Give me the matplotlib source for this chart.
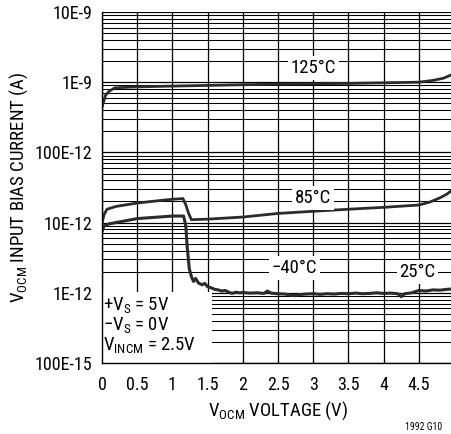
import matplotlib
matplotlib.use("Agg")
import matplotlib.pyplot as plt
from matplotlib import font_manager as fm
from matplotlib.patches import Rectangle
from matplotlib.ticker import LogLocator, NullFormatter

_avail = {f.name for f in fm.fontManager.ttflist}
_prefs = ["Liberation Sans Narrow", "Roboto Condensed", "Archivo Narrow", "PT Sans Narrow",
          "Arimo", "Liberation Sans"]
MAIN = next((p for p in _prefs if p in _avail), "DejaVu Sans")
plt.rcParams["font.family"] = [MAIN, "DejaVu Sans"]
plt.rcParams["mathtext.fontset"] = "custom"
plt.rcParams["mathtext.rm"] = MAIN
plt.rcParams["mathtext.it"] = MAIN

# ---- data ----
v125 = [0, 0.05, 0.1, 0.18, 0.4, 0.75, 1.0, 1.5, 2.0, 2.5, 3.0, 3.5, 4.0, 4.5, 4.7, 4.85, 5.0]
i125 = [4.4e-10, 6.5e-10, 7.4e-10, 8.3e-10, 8.5e-10, 8.7e-10, 8.8e-10, 9.0e-10, 9.2e-10,
        9.4e-10, 9.5e-10, 9.6e-10, 9.8e-10, 1.0e-9, 1.06e-9, 1.14e-9, 1.32e-9]

v85 = [0, 0.03, 0.07, 0.2, 0.5, 0.8, 1.0, 1.15, 1.19, 1.23, 1.27, 1.5, 2.0, 2.5, 3.0,
       3.5, 4.0, 4.5, 4.65, 4.8, 4.9, 5.0]
i85 = [9.9e-12, 1.3e-11, 1.55e-11, 1.7e-11, 1.9e-11, 2.05e-11, 2.15e-11, 2.2e-11, 1.8e-11,
       1.35e-11, 1.1e-11, 1.12e-11, 1.2e-11, 1.35e-11, 1.45e-11, 1.55e-11, 1.65e-11,
       1.78e-11, 1.95e-11, 2.25e-11, 2.55e-11, 3.05e-11]

v_low = [0, 0.03, 0.1, 0.5, 1.0, 1.16, 1.19, 1.21, 1.24, 1.27, 1.3, 1.33, 1.37, 1.42, 1.46,
         1.5, 1.55, 1.6, 1.65, 1.7, 1.75, 1.8, 1.85, 1.9, 1.95, 2.0, 2.1, 2.2, 2.3, 2.35,
         2.4, 2.5, 2.6, 2.7, 2.75, 2.8, 2.9, 3.0, 3.1, 3.2, 3.3, 3.4, 3.5, 3.6, 3.7, 3.8,
         3.9, 4.0, 4.1, 4.2, 4.25, 4.3, 4.4, 4.5, 4.6, 4.7, 4.8, 4.9, 5.0]
i_low = [7.5e-12, 9.0e-12, 9.6e-12, 1.14e-11, 1.24e-11, 1.24e-11, 9e-12, 4.5e-12, 2.2e-12,
         1.7e-12, 1.45e-12, 1.6e-12, 1.38e-12, 1.3e-12, 1.36e-12, 1.22e-12, 1.18e-12,
         1.12e-12, 1.1e-12, 1.06e-12, 1.08e-12, 1.02e-12, 0.98e-12, 1.02e-12, 1.0e-12,
         1.01e-12, 0.99e-12, 1.0e-12, 0.98e-12, 1.06e-12, 0.99e-12, 0.97e-12, 0.96e-12,
         0.92e-12, 0.91e-12, 0.94e-12, 0.96e-12, 0.97e-12, 0.95e-12, 0.97e-12, 0.96e-12,
         0.98e-12, 0.97e-12, 0.99e-12, 0.97e-12, 0.98e-12, 1.0e-12, 0.98e-12, 0.99e-12,
         0.97e-12, 0.88e-12, 0.97e-12, 1.0e-12, 1.08e-12, 1.06e-12, 1.1e-12, 1.09e-12,
         1.12e-12, 1.14e-12]

x_ticks = [0, 0.5, 1, 1.5, 2, 2.5, 3, 3.5, 4, 4.5, 5]
x_labels = ["0", "0.5", "1", "1.5", "2", "2.5", "3", "3.5", "4", "4.5", "5"]
y_ticks = [1e-13, 1e-12, 1e-11, 1e-10, 1e-9, 1e-8]
y_labels = ["100E-15", "1E-12", "10E-12", "100E-12", "1E-9", "10E-9"]

# ---- figure ----
fig = plt.figure(figsize=(4.52, 4.34), dpi=100)
ax = fig.add_axes([102 / 452, 71 / 434, 352 / 452, 351 / 434])
ax.set_yscale("log")
ax.set_xlim(0, 5)
ax.set_ylim(1e-13, 1e-8)

ax.set_xticks(x_ticks)
ax.set_xticklabels(x_labels)
ax.set_yticks(y_ticks)
ax.set_yticklabels(y_labels)
ax.yaxis.set_minor_locator(LogLocator(base=10, subs=range(2, 10), numticks=20))
ax.yaxis.set_minor_formatter(NullFormatter())

ax.set_axisbelow(True)
ax.grid(True, which="major", axis="both", color="black", linewidth=0.9)
ax.grid(True, which="minor", axis="y", color="black", linewidth=0.75)
ax.tick_params(axis="x", which="major", direction="in", length=3, width=0.8,
               labelsize=13, pad=9)
ax.tick_params(axis="y", which="both", length=0, labelsize=13, pad=7)

for s in ["top", "right"]:
    ax.spines[s].set_visible(False)
for s in ["left", "bottom"]:
    ax.spines[s].set_linewidth(1.0)
    ax.spines[s].set_zorder(5)

# white box covering grid behind annotation
ax.add_patch(Rectangle((0, 0), 110 / 352, 71 / 351, transform=ax.transAxes,
                       facecolor="white", edgecolor="none", zorder=1))

lc = "#2b2b2b"
ax.plot(v125, i125, color=lc, lw=2.0, zorder=3, solid_joinstyle="round")
ax.plot(v85, i85, color=lc, lw=2.0, zorder=3, solid_joinstyle="round")
ax.plot(v_low, i_low, color=lc, lw=2.2, zorder=3, solid_joinstyle="round")

bb = dict(facecolor="white", edgecolor="none", pad=2)
lab_kw = dict(ha="center", va="center", fontsize=13.5, bbox=bb, zorder=4)
ax.text(3.0, 1.59e-9, "125°C", **lab_kw)
ax.text(3.0, 2.24e-11, "85°C", **lab_kw)
ax.text(2.73, 2.25e-12, "\u221240°C", **lab_kw)
ax.text(4.48, 1.98e-12, "25°C", **lab_kw)

ann_kw = dict(ha="left", va="center", fontsize=13.5, zorder=4)
ax.text(0.02, 6.6e-13, r"+V$_\mathregular{S}$ = 5V", **ann_kw)
ax.text(0.02, 3.5e-13, "\u2212V$_\\mathregular{S}$ = 0V", **ann_kw)
ax.text(0.02, 1.83e-13, r"V$_\mathregular{INCM}$ = 2.5V", **ann_kw)

ax.set_xlabel(r"V$_\mathregular{OCM}$ VOLTAGE (V)", fontsize=13.5, labelpad=4)
ax.set_ylabel(r"V$_\mathregular{OCM}$ INPUT BIAS CURRENT (A)", fontsize=13.5, labelpad=3)

fig.text(405 / 452, 1 - 427 / 434, "1992 G10", fontsize=7, ha="left", va="center")

fig.savefig("out.png", dpi=100, facecolor="white")
